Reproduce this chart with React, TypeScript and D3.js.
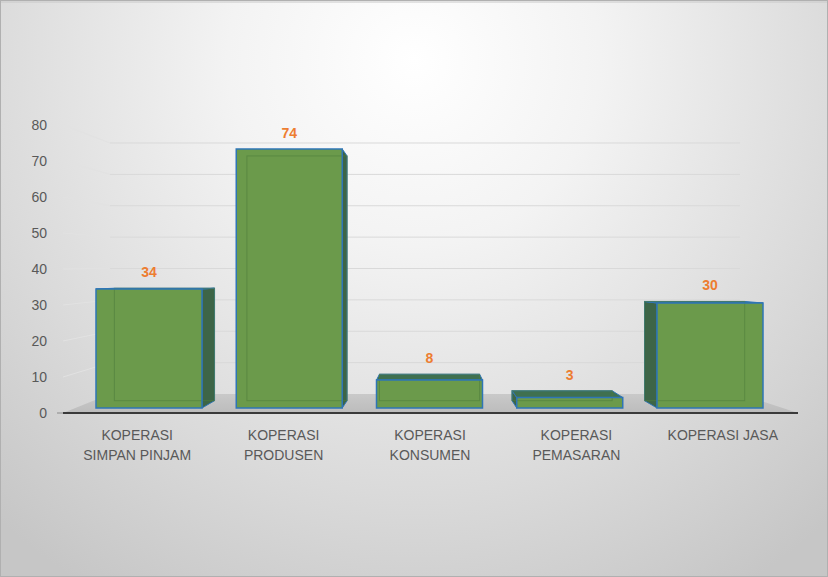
import React from "react";
import * as d3 from "d3";

const categories: string[][] = [
  ["KOPERASI", "SIMPAN PINJAM"],
  ["KOPERASI", "PRODUSEN"],
  ["KOPERASI", "KONSUMEN"],
  ["KOPERASI", "PEMASARAN"],
  ["KOPERASI JASA"],
];
const values: number[] = [34, 74, 8, 3, 30];
const yTicks: number[] = [0, 10, 20, 30, 40, 50, 60, 70, 80];

const W = 828;
const H = 577;
const FONT = "'Liberation Sans', Arial, sans-serif";
const VP = { x: 430, y: 275 };
const DEPTH = 0.945;

export default function App() {
  const idx = values.map((_, i) => i);
  const yAxis = d3.scaleLinear().domain([0, 80]).range([413, 125]);
  const yWall = d3.scaleLinear().domain([0, 80]).range([394, 143]);
  const yBar = d3.scaleLinear().domain([0, 80]).range([408, 128]);
  const xLabel = d3.scaleBand<number>().domain(idx).range([64, 796]);
  const xBar = d3.scalePoint<number>().domain(idx).range([149, 710]);
  const wallX = d3.scaleLinear().domain([0, 1]).range([110, 740]);
  const frontX = d3.scaleLinear().domain([0, 1]).range([63, 798]);
  const barW = 106;

  const proj = (x: number, y: number): [number, number] => [
    VP.x + (x - VP.x) * DEPTH,
    VP.y + (y - VP.y) * DEPTH,
  ];
  const pts = (p: [number, number][]) => p.map((q) => q.join(",")).join(" ");

  return (
    <svg
      width={W}
      height={H}
      style={{ position: "absolute", left: 0, top: 0, display: "block" }}
      xmlns="http://www.w3.org/2000/svg"
    >
      <defs>
        <radialGradient id="bg" gradientUnits="userSpaceOnUse" cx={414} cy={60} r={620}>
          <stop offset="0" stopColor="#ffffff" />
          <stop offset="0.3" stopColor="#f3f3f3" />
          <stop offset="0.7" stopColor="#dadada" />
          <stop offset="1" stopColor="#c6c6c6" />
        </radialGradient>
        <linearGradient id="floor" x1="0" y1="0" x2="0" y2="1">
          <stop offset="0" stopColor="#c9c9c9" />
          <stop offset="1" stopColor="#bcbcbc" />
        </linearGradient>
      </defs>
      <rect x={0} y={0} width={W} height={H} fill="url(#bg)" />
      <rect x={0.5} y={0.5} width={W - 1} height={H - 1} fill="none" stroke="#b0b0b0" />
      <line x1={1} x2={W - 1} y1={2} y2={2} stroke="#c8c8c8" />

      {/* side wall diagonals and back wall gridlines */}
      {yTicks.filter((t) => t > 0).map((t) => (
        <g key={"g" + t}>
          <line x1={frontX(0)} y1={yAxis(t)} x2={wallX(0)} y2={yWall(t)} stroke="#e2e2e2" strokeWidth={1} />
          <line x1={wallX(0)} y1={yWall(t)} x2={wallX(1)} y2={yWall(t)} stroke="#d9d9d9" strokeWidth={1} />
        </g>
      ))}

      {/* floor */}
      <polygon
        points={pts([
          [frontX(0), yAxis(0)],
          [frontX(1), yAxis(0)],
          [wallX(1), yWall(0)],
          [wallX(0), yWall(0)],
        ])}
        fill="url(#floor)"
      />
      <line x1={frontX(0)} x2={frontX(1)} y1={yAxis(0)} y2={yAxis(0)} stroke="#3a3a3a" strokeWidth={2} />
      <line x1={frontX(0) - 6} x2={frontX(0)} y1={yAxis(0)} y2={yAxis(0)} stroke="#8a8a8a" strokeWidth={1} />

      {/* y tick labels */}
      {yTicks.map((t) => (
        <text key={"t" + t} x={47} y={yAxis(t)} dy="0.35em" textAnchor="end" fontFamily={FONT} fontSize={14} fill="#595959">
          {t}
        </text>
      ))}

      {/* bars */}
      {values.map((v, i) => {
        const c = xBar(i)!;
        const x0 = c - barW / 2;
        const x1 = c + barW / 2;
        const yT = yBar(v);
        const yB = yBar(0);
        const [bx0, byT] = proj(x0, yT);
        const [bx1, byB] = proj(x1, yB);
        const side: [number, number][] | null =
          c < VP.x - 5
            ? [[x1, yT], [bx1, byT], [bx1, byB], [x1, yB]]
            : c > VP.x + 5
            ? [[x0, yT], [bx0, byT], [bx0, byB], [x0, yB]]
            : null;
        const top: [number, number][] | null =
          yT > VP.y ? [[x0, yT], [x1, yT], [bx1, byT], [bx0, byT]] : null;
        const labelY = Math.min(yT, byT) - 11;
        return (
          <g key={"b" + i}>
            {side && <polygon points={pts(side)} fill="#3d6547" stroke="#2e75b6" strokeWidth={1} />}
            {top && <polygon points={pts(top)} fill="#3f7050" stroke="#2e75b6" strokeWidth={1} />}
            <rect x={x0} y={yT} width={barW} height={yB - yT} fill="#6b9a4b" />
            <rect
              x={bx0}
              y={byT}
              width={bx1 - bx0}
              height={byB - byT}
              fill="none"
              stroke="#4f7d3c"
              strokeOpacity={0.6}
              strokeWidth={1}
            />
            <rect x={x0} y={yT} width={barW} height={yB - yT} fill="none" stroke="#2e75b6" strokeWidth={1.5} />
            <text
              x={c}
              y={labelY}
              textAnchor="middle"
              fontFamily={FONT}
              fontSize={14}
              fontWeight="bold"
              fill="#ed7d31"
            >
              {v}
            </text>
          </g>
        );
      })}

      {/* category labels */}
      {categories.map((lines, i) => (
        <text
          key={"c" + i}
          x={xLabel(i)! + xLabel.bandwidth() / 2}
          y={440}
          textAnchor="middle"
          fontFamily={FONT}
          fontSize={14}
          fill="#595959"
        >
          {lines.map((l, j) => (
            <tspan key={j} x={xLabel(i)! + xLabel.bandwidth() / 2} dy={j === 0 ? 0 : 20}>
              {l}
            </tspan>
          ))}
        </text>
      ))}
    </svg>
  );
}
